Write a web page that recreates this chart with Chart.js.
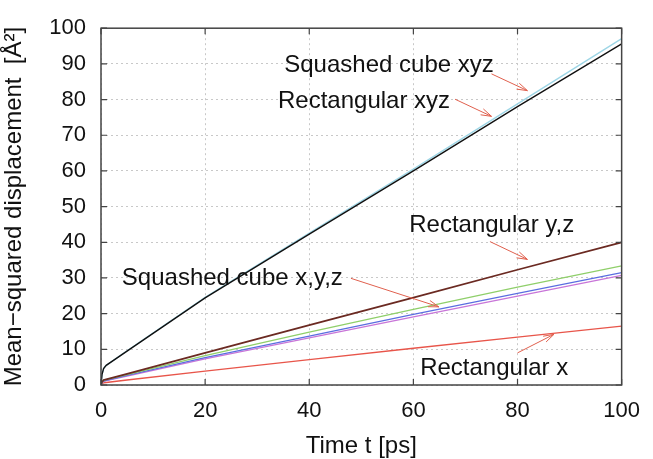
<!DOCTYPE html>
<html>
<head>
<meta charset="utf-8">
<script src="https://cdn.jsdelivr.net/npm/chart.js@4"></script>
<style>
  html, body { margin: 0; padding: 0; background: #fff; }
  #wrap { width: 653px; height: 459px; }
</style>
</head>
<body>
<div id="wrap"><canvas id="myChart" width="653" height="459"></canvas></div>
<script>
// time axis (ps) and mean-squared displacement (A^2)
const times      = [0, 0.2, 0.5, 1, 5, 20, 40, 60, 80, 100];
const sqCubeXYZ  = [0, 3.0, 4.6, 5.5, 9.6, 24.6, 42.6, 60.5, 78.8, 97.1];
const rectXYZ    = [0, 3.0, 4.6, 5.5, 9.5, 24.4, 42.3, 60.0, 78.0, 95.6];
const rectYZ     = [0, 0.9, 1.4, 1.6, 3.1, 9.0, 16.8, 24.5, 32.3, 40.0];
const sqCubeX    = [0, 0.8, 1.3, 1.5, 2.9, 8.2, 14.8, 21.2, 27.4, 33.4];
const sqCubeY    = [0, 0.7, 1.1, 1.3, 2.7, 7.7, 13.7, 19.8, 25.7, 31.5];
const sqCubeZ    = [0, 0.6, 1.0, 1.2, 2.5, 7.3, 13.2, 19.1, 24.9, 30.7];
const rectX      = [0, 0.4, 0.6, 0.7, 1.4, 3.9, 7.1, 10.3, 13.4, 16.5];

const xTicks = [0, 20, 40, 60, 80, 100];
const yTicks = [0, 10, 20, 30, 40, 50, 60, 70, 80, 90, 100];

// labels: text, t, value (baseline-left)
const labels = [
    ['Squashed cube xyz', 35.2, 87.7],
    ['Rectangular xyz', 34.0, 77.6],
    ['Rectangular y,z', 59.2, 42.9],
    ['Squashed cube x,y,z', 4.0, 27.9],
    ['Rectangular x', 61.3, 2.7]
];
// arrows: from [t, value] to [t, value]
const arrows = [
    [75.0, 87.2, 81.9, 82.5],
    [68.0, 80.1, 75.0, 75.3],
    [74.7, 40.2, 81.9, 35.2],
    [48.0, 29.9, 64.9, 21.9],
    [80.0, 9.0, 87.0, 14.2]
];

const FONT = '"Liberation Sans", Arial, Helvetica, sans-serif';

function series(values, color, width) {
    return {
        data: times.map((t, i) => ({ x: t, y: values[i] })),
        borderColor: color,
        borderWidth: width || 1.3,
        pointRadius: 0,
        fill: false,
        tension: 0
    };
}

const frameAndNotes = {
    id: 'frameAndNotes',
    afterDatasetsDraw(chart) {
        const ctx = chart.ctx;
        const a = chart.chartArea;
        const xs = chart.scales.x, ys = chart.scales.y;
        ctx.save();
        // frame
        ctx.strokeStyle = '#444';
        ctx.lineWidth = 1.5;
        ctx.strokeRect(a.left, a.top, a.right - a.left, a.bottom - a.top);
        // inward ticks on all four sides
        ctx.lineWidth = 1.2;
        ctx.beginPath();
        xTicks.forEach(v => {
            const px = xs.getPixelForValue(v);
            ctx.moveTo(px, a.bottom); ctx.lineTo(px, a.bottom - 6);
            ctx.moveTo(px, a.top); ctx.lineTo(px, a.top + 6);
        });
        yTicks.forEach(v => {
            const py = ys.getPixelForValue(v);
            ctx.moveTo(a.left, py); ctx.lineTo(a.left + 6, py);
            ctx.moveTo(a.right, py); ctx.lineTo(a.right - 6, py);
        });
        ctx.stroke();
        // text labels
        ctx.fillStyle = '#111';
        ctx.font = '24px ' + FONT;
        ctx.textAlign = 'left';
        ctx.textBaseline = 'alphabetic';
        labels.forEach(([txt, t, v]) => {
            ctx.fillText(txt, xs.getPixelForValue(t), ys.getPixelForValue(v));
        });
        // arrows
        ctx.strokeStyle = '#e0604e';
        ctx.lineWidth = 1;
        arrows.forEach(([t0, v0, t1, v1]) => {
            const x0 = xs.getPixelForValue(t0), y0 = ys.getPixelForValue(v0);
            const x1 = xs.getPixelForValue(t1), y1 = ys.getPixelForValue(v1);
            const ang = Math.atan2(y1 - y0, x1 - x0);
            ctx.beginPath();
            ctx.moveTo(x0, y0); ctx.lineTo(x1, y1);
            [-0.3, 0.3].forEach(d => {
                ctx.moveTo(x1, y1);
                ctx.lineTo(x1 - 11 * Math.cos(ang + d), y1 - 11 * Math.sin(ang + d));
            });
            ctx.stroke();
        });
        ctx.restore();
    }
};

const ctx = document.getElementById('myChart').getContext('2d');
const myChart = new Chart(ctx, {
    type: 'line',
    data: {
        datasets: [
            series(rectXYZ, '#111111', 1.4),
            series(sqCubeXYZ, '#9ed6e6', 1.4),
            series(rectYZ, '#6b2a22', 1.8),
            series(sqCubeX, '#8fcf6a'),
            series(sqCubeY, '#5b6ee0'),
            series(sqCubeZ, '#c875d8'),
            series(rectX, '#e8554a')
        ]
    },
    options: {
        responsive: false,
        animation: false,
        layout: { padding: { top: 20, right: 25, left: 0, bottom: 0 } },
        plugins: {
            legend: { display: false },
            tooltip: { enabled: false }
        },
        scales: {
            x: {
                type: 'linear',
                min: 0,
                max: 100,
                afterFit: s => { s.height = 74; },
                afterBuildTicks: s => { s.ticks = xTicks.map(v => ({ value: v })); },
                ticks: {
                    color: '#111',
                    font: { family: FONT, size: 22 },
                    padding: 13,
                    maxRotation: 0
                },
                grid: { color: '#c8c8c8', drawTicks: false, lineWidth: 1 },
                border: { display: false, dash: [2, 3] },
                title: {
                    display: true,
                    text: 'Time t [ps]',
                    color: '#111',
                    font: { family: FONT, size: 24, lineHeight: 1 },
                    padding: { top: 0, bottom: 1 }
                }
            },
            y: {
                min: 0,
                max: 100,
                afterFit: s => { s.width = 101; },
                afterBuildTicks: s => { s.ticks = yTicks.map(v => ({ value: v })); },
                ticks: {
                    color: '#111',
                    font: { family: FONT, size: 22 },
                    padding: 15
                },
                grid: { color: '#c8c8c8', drawTicks: false, lineWidth: 1 },
                border: { display: false, dash: [2, 3] },
                title: {
                    display: true,
                    text: 'Mean\u2212squared displacement  [\u00c5\u00b2]',
                    color: '#111',
                    font: { family: FONT, size: 24 },
                    padding: { top: 0, bottom: 0 }
                }
            }
        }
    },
    plugins: [frameAndNotes]
});
</script>
</body>
</html>
